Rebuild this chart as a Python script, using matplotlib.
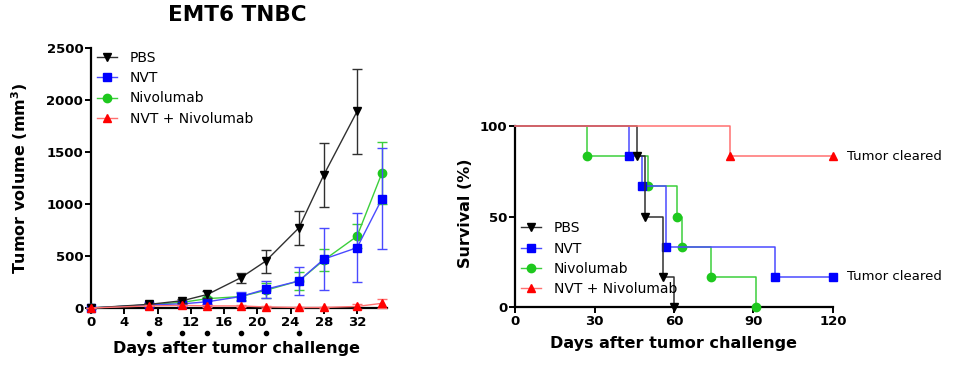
import matplotlib.pyplot as plt
from matplotlib.lines import Line2D
import numpy as np

# tumour growth (mean, symmetric error)
days = [0, 7, 11, 14, 18, 21, 25, 28, 32, 35]
pbs_days = days[:9]
pbs_vol = [0, 35, 70, 130, 290, 450, 770, 1280, 1890]
pbs_err = [0, 10, 20, 30, 45, 110, 165, 310, 405]
nvt_vol = [0, 30, 40, 60, 110, 180, 260, 470, 580, 1050]
nvt_err = [0, 8, 12, 20, 40, 80, 135, 300, 330, 485]
niv_vol = [0, 30, 55, 90, 110, 170, 260, 460, 690, 1300]
niv_err = [0, 8, 12, 20, 35, 70, 90, 105, 115, 300]
combo_vol = [0, 20, 25, 20, 20, 10, 5, 5, 15, 45]
combo_err = [0, 5, 8, 8, 10, 8, 5, 5, 25, 45]
treat_days = [7, 11, 14, 18, 21, 25]

# survival (Kaplan-Meier steps)
pbs_t = [0, 46, 49, 56, 60]
pbs_s = [100, 83.3, 50, 16.7, 0]
nvt_t = [0, 43, 48, 57, 98, 120]
nvt_s = [100, 83.3, 66.7, 33.3, 16.7, 16.7]
niv_t = [0, 27, 50, 61, 63, 74, 91]
niv_s = [100, 83.3, 66.7, 50, 33.3, 16.7, 0]
combo_t = [0, 81, 120]
combo_s = [100, 83.3, 83.3]

labels = ['PBS', 'NVT', 'Nivolumab', 'NVT + Nivolumab']
mk = ['v', 's', 'o', '^']
mcol = ['black', '#0000ff', '#1ec81e', '#ff0000']
lcol = ['#303030', '#4a4aff', '#3ccf3c', '#ff7070']
zo = [5, 4, 3, 6]

fig = plt.figure(figsize=(9.57, 3.7), dpi=100)
ax1 = fig.add_axes([91/957, 62/370, 296/957, 260/370])
ax2 = fig.add_axes([515/957, 63/370, 318/957, 181/370])

def style(ax):
    for s in ['top', 'right']:
        ax.spines[s].set_visible(False)
    for s in ['left', 'bottom']:
        ax.spines[s].set_linewidth(1.6)
    ax.tick_params(width=1.4, length=4, pad=1.5, labelsize=9.5)
    for t in ax.get_xticklabels() + ax.get_yticklabels():
        t.set_fontweight('bold')

handles = [Line2D([], [], color=lcol[i], lw=1, marker=mk[i], mfc=mcol[i],
                  mec=mcol[i], ms=6, label=labels[i]) for i in range(4)]
leg_kw = dict(frameon=False, fontsize=10, handlelength=1.5, handletextpad=0.9,
              labelspacing=0.45, borderaxespad=0)

# left panel
series = [(pbs_days, pbs_vol, pbs_err), (days, nvt_vol, nvt_err),
          (days, niv_vol, niv_err), (days, combo_vol, combo_err)]
for i, (x, y, e) in enumerate(series):
    ax1.errorbar(x, y, yerr=e, color=lcol[i], ecolor=lcol[i], lw=1, elinewidth=1,
                 capsize=3.5, marker=mk[i], mfc=mcol[i], mec=mcol[i], ms=6,
                 zorder=zo[i], clip_on=False)
ax1.set_xlim(0, 35.6)
ax1.set_ylim(0, 2500)
ax1.set_xticks(np.arange(0, 33, 4))
ax1.set_yticks(np.arange(0, 2501, 500))
style(ax1)
ax1.plot(treat_days, [-0.096] * len(treat_days), 'o', color='black', ms=3,
         transform=ax1.get_xaxis_transform(), clip_on=False)
ax1.set_xlabel('Days after tumor challenge', fontsize=11.5, fontweight='bold')
ax1.xaxis.set_label_coords(0.493, -0.127)
ax1.set_ylabel(r'Tumor volume (mm$^{\mathbf{3}}$)', fontsize=11.5, fontweight='bold')
ax1.yaxis.set_label_coords(-0.206, 0.5)
ax1.legend(handles=handles, loc='upper left', bbox_to_anchor=(0.0, 1.01), **leg_kw)
fig.text(237/957, 1 - 15/370, 'EMT6 TNBC', ha='center', va='center',
         fontsize=15.5, fontweight='bold')

# right panel
surv = [(pbs_t, pbs_s), (nvt_t, nvt_s), (niv_t, niv_s), (combo_t, combo_s)]
for i, (t, s) in enumerate(surv):
    ax2.step(t, s, where='post', color=lcol[i], lw=1.1, zorder=zo[i], clip_on=False)
    ax2.plot(t[1:], s[1:], ls='none', marker=mk[i], color=mcol[i], ms=6,
             zorder=zo[i] + 0.5, clip_on=False)
ax2.set_xlim(0, 120)
ax2.set_ylim(0, 100)
ax2.set_xticks([0, 30, 60, 90, 120])
ax2.set_yticks([0, 50, 100])
style(ax2)
ax2.text(125.3, 83.3, 'Tumor cleared', fontsize=9.5, va='center', clip_on=False)
ax2.text(125.3, 16.7, 'Tumor cleared', fontsize=9.5, va='center', clip_on=False)
ax2.set_xlabel('Days after tumor challenge', fontsize=11.5, fontweight='bold')
ax2.xaxis.set_label_coords(0.5, -0.16)
ax2.set_ylabel('Survival (%)', fontsize=11.5, fontweight='bold')
ax2.yaxis.set_label_coords(-0.132, 0.52)
ax2.legend(handles=handles, loc='lower left', bbox_to_anchor=(0.0, 0.03), **leg_kw)

fig.savefig('out.png', dpi=100)
